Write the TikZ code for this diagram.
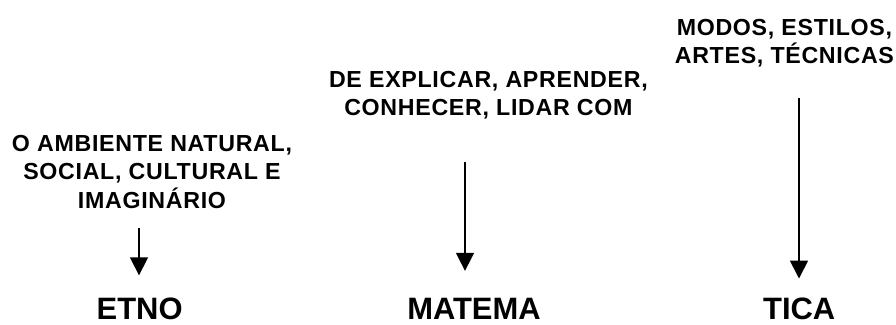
\documentclass[tikz,border=0pt]{standalone}
\usepackage{fontspec}
\setmainfont{Liberation Sans}
\newfontfamily\capsfont[LetterSpace=3]{Liberation Sans}
\usetikzlibrary{arrows.meta}

\begin{document}
\begin{tikzpicture}[
    desc/.style={align=center, inner sep=0pt, anchor=north, font=\capsfont\bfseries\fontsize{16.5}{20.2}\selectfont},
    part/.style={inner sep=0pt, anchor=base, font=\bfseries\fontsize{22}{26}\selectfont},
    arr/.style={draw, line width=1.2pt, -{Triangle[length=0.45cm, width=0.45cm]}}
]
    \useasboundingbox (0,0) rectangle (22.4,8.125);

    \node[desc] (ambiente) at (3.8,4.75) {O AMBIENTE NATURAL,\\SOCIAL, CULTURAL E\\IMAGINÁRIO};
    \node[desc] (explicar) at (12.21,6.35) {DE EXPLICAR, APRENDER,\\CONHECER, LIDAR COM};
    \node[desc] (modos) at (19.61,7.65) {MODOS, ESTILOS,\\ARTES, TÉCNICAS};

    \node[part] (etno) at (3.49,0.125) {ETNO};
    \node[part] (matema) at (11.85,0.125) {MATEMA};
    \node[part] (tica) at (19.98,0.125) {TICA};

    % where the arrows start
    \coordinate (etnotop) at (3.475,2.425);
    \coordinate (matematop) at (11.625,4.075);
    \coordinate (ticatop) at (19.975,5.675);

    \draw[arr, shorten >=0.57cm] (etnotop) -- (etno.north -| etnotop);
    \draw[arr, shorten >=0.69cm] (matematop) -- (matema.north -| matematop);
    \draw[arr, shorten >=0.49cm] (ticatop) -- (tica.north -| ticatop);
\end{tikzpicture}
\end{document}
